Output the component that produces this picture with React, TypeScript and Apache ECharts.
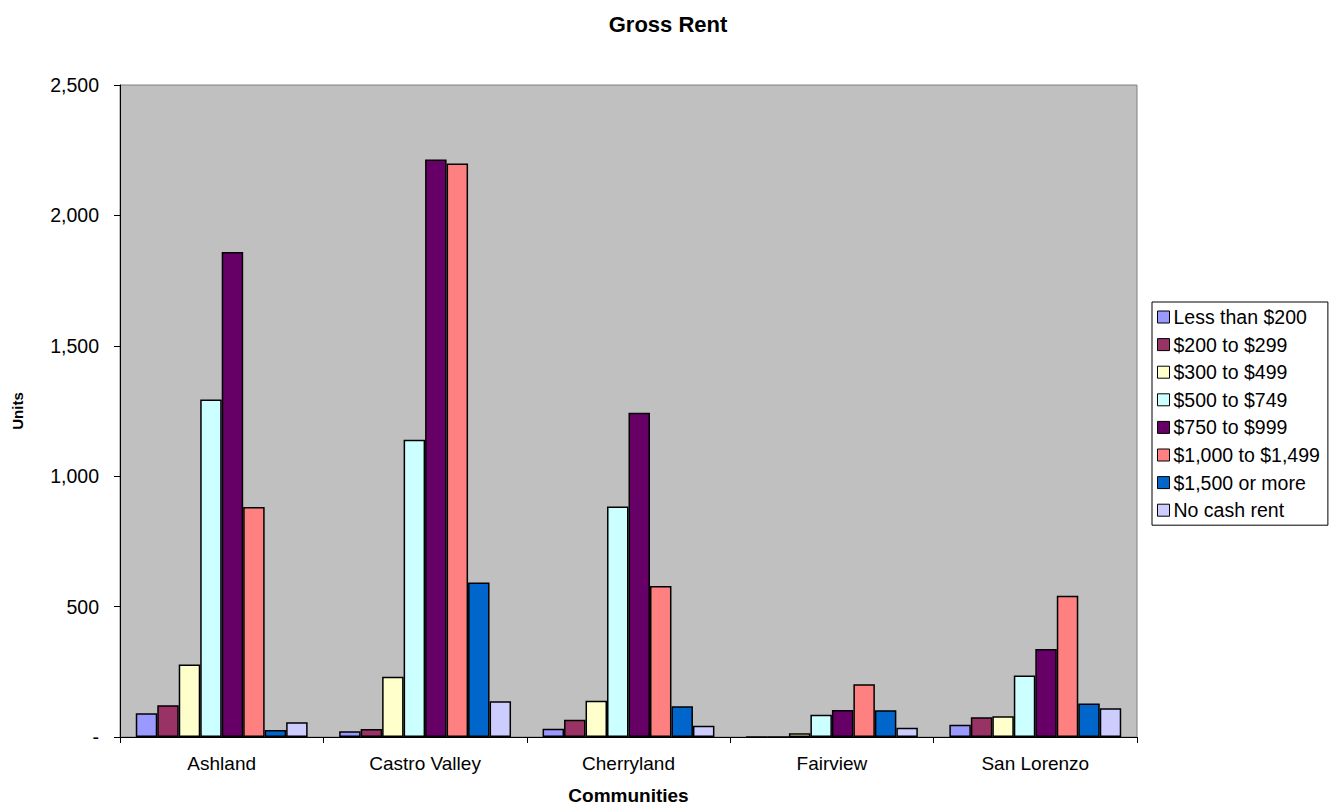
import React, { useEffect, useRef } from "react";
import * as echarts from "echarts";

const communities = ["Ashland", "Castro Valley", "Cherryland", "Fairview", "San Lorenzo"];

const seriesNames = [
  "Less than $200",
  "$200 to $299",
  "$300 to $499",
  "$500 to $749",
  "$750 to $999",
  "$1,000 to $1,499",
  "$1,500 or more",
  "No cash rent",
];

const seriesColors = ["#9999FF", "#993366", "#FFFFCC", "#CCFFFF", "#660066", "#FF8080", "#0066CC", "#CCCCFF"];

const lessThan200 = [91, 22, 32, 0, 47];
const from200to299 = [122, 31, 66, 0, 76];
const from300to499 = [278, 231, 139, 14, 80];
const from500to749 = [1294, 1140, 884, 85, 236];
const from750to999 = [1860, 2214, 1243, 104, 337];
const from1000to1499 = [882, 2199, 579, 202, 542];
const from1500up = [27, 592, 118, 103, 128];
const noCashRent = [57, 137, 43, 35, 110];

const seriesValues = [
  lessThan200,
  from200to299,
  from300to499,
  from500to749,
  from750to999,
  from1000to1499,
  from1500up,
  noCashRent,
];

const yTicks = [0, 500, 1000, 1500, 2000, 2500];

const FONT = "'Liberation Sans', Arial, sans-serif";

export default function App() {
  const ref = useRef<HTMLDivElement>(null);

  useEffect(() => {
    if (!ref.current) return;
    const chart = echarts.init(ref.current, null, { renderer: "svg" });
    chart.setOption({
      animation: false,
      backgroundColor: "#FFFFFF",
      title: {
        text: "Gross Rent",
        left: 663,
        textAlign: "center",
        top: 8,
        textStyle: { fontFamily: FONT, fontSize: 22, fontWeight: "bold", color: "#000" },
      },
      legend: {
        orient: "vertical",
        left: 1152,
        top: 302,
        data: seriesNames,
        backgroundColor: "#FFFFFF",
        borderColor: "#000000",
        borderWidth: 1,
        padding: [5, 8, 5, 5],
        itemWidth: 12,
        itemHeight: 12,
        itemGap: 7.6,
        icon: "rect",
        itemStyle: { borderColor: "#000", borderWidth: 1 },
        textStyle: { fontFamily: FONT, fontSize: 19.5, color: "#000", lineHeight: 20, padding: [0, 0, 0, -1] },
      },
      grid: {
        left: 120,
        right: 202,
        top: 85,
        bottom: 69,
        show: true,
        backgroundColor: "#C0C0C0",
        borderColor: "#808080",
        borderWidth: 1,
      },
      xAxis: {
        type: "category",
        data: communities,
        name: "Communities",
        nameLocation: "middle",
        nameGap: 49,
        nameTextStyle: { fontFamily: FONT, fontSize: 19, fontWeight: "bold", color: "#000" },
        axisLine: { lineStyle: { color: "#000", width: 1 } },
        axisTick: { show: true, length: 6, interval: 0, lineStyle: { color: "#000" } },
        axisLabel: { fontFamily: FONT, fontSize: 19, color: "#000", margin: 17, interval: 0 },
        splitLine: { show: false },
      },
      yAxis: {
        type: "value",
        min: yTicks[0],
        max: yTicks[yTicks.length - 1],
        interval: 500,
        name: "Units",
        nameLocation: "middle",
        nameGap: 95,
        nameTextStyle: { fontFamily: FONT, fontSize: 15, fontWeight: "bold", color: "#000" },
        axisLine: { show: true, lineStyle: { color: "#000", width: 1 } },
        axisTick: { show: true, length: 6, lineStyle: { color: "#000" } },
        axisLabel: {
          fontFamily: FONT,
          fontSize: 19.5,
          color: "#000",
          margin: 21,
          formatter: (v: number) => (v === 0 ? "-" : v.toLocaleString("en-US")),
        },
        splitLine: { show: false },
      },
      series: seriesNames.map((name, i) => ({
        name,
        type: "bar",
        data: seriesValues[i],
        barGap: "0%",
        barCategoryGap: "15.5%",
        itemStyle: { color: seriesColors[i], borderColor: "#000", borderWidth: 1.5 },
      })),
    });
    return () => chart.dispose();
  }, []);

  return (
    <div
      ref={ref}
      style={{ position: "fixed", left: 0, top: 0, width: 1339, height: 810 }}
    />
  );
}
